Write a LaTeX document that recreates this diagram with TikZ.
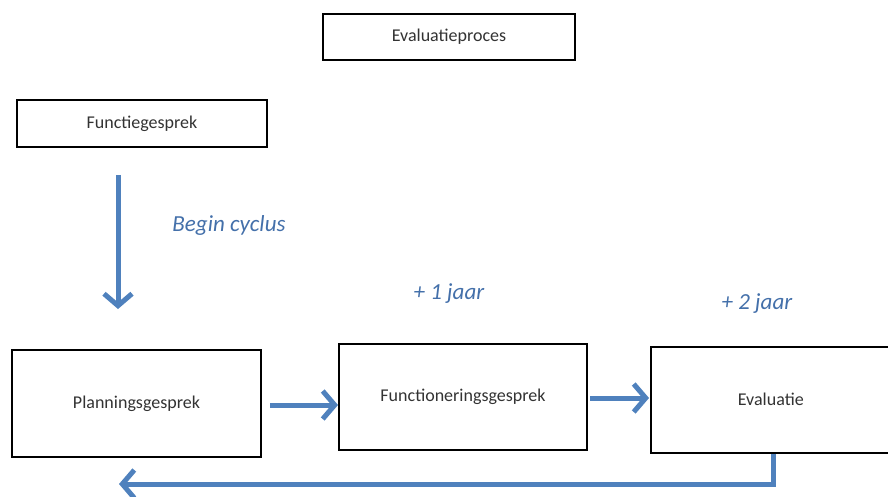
\documentclass[tikz,border=0pt]{standalone}
\usepackage{fontspec}
\setmainfont{Carlito}
\usetikzlibrary{arrows.meta}
\definecolor{arrowblue}{HTML}{4F81BD}
\definecolor{labelblue}{HTML}{4470AA}
\tikzset{
  box/.style={draw=black, line width=1.6pt, fill=white, inner sep=0pt, font=\fontsize{18}{20}\selectfont, text=black!80},
  flow/.style={draw=arrowblue, line width=5pt, -{Straight Barb[length=12pt,width=28pt]}},
  lab/.style={text=labelblue, font=\fontsize{23}{26}\selectfont\itshape}
}
\begin{document}
\begin{tikzpicture}[x=1pt,y=-1pt]
\useasboundingbox (0,0) rectangle (888,497);
\node[box, minimum width=252pt, minimum height=46pt] (proc) at (449,37) {Evaluatieproces};
\node[box, minimum width=250pt, minimum height=47pt] (func) at (142,123.5) {Functiegesprek};
\node[box, minimum width=249pt, minimum height=107pt] (plan) at (136.5,403.5) {Planningsgesprek};
\node[box, minimum width=248pt, minimum height=106pt] (fung) at (463,397) {\raisebox{3pt}{Functioneringsgesprek}};
\node[box, minimum width=240pt, minimum height=106pt, anchor=west] (eval) at (650,400) {\raisebox{2pt}{Evaluatie}};
\node[lab] (begin) at (229,225) {Begin cyclus};
\node[lab] (een) at (449,294) {+ 1 jaar};
\node[lab] (twee) at (757,304) {+ 2 jaar};
\coordinate (dstart) at (118,175);
\coordinate (dend) at (118,309);
\draw[flow] (dstart) -- (dend);
\coordinate (a1s) at (270,405);
\coordinate (a1e) at (338,405);
\draw[flow] (a1s) -- (a1e);
\coordinate (a2s) at (590,398);
\coordinate (a2e) at (649,398);
\draw[flow] (a2s) -- (a2e);
\coordinate (rcorner) at (773,484);
\coordinate (rend) at (119,484);
\draw[flow, -] ([xshift=123pt]eval.south west) -- ([yshift=2.5pt]rcorner);
\draw[flow] ([xshift=2.5pt]rcorner) -- (rend);
\end{tikzpicture}
\end{document}
